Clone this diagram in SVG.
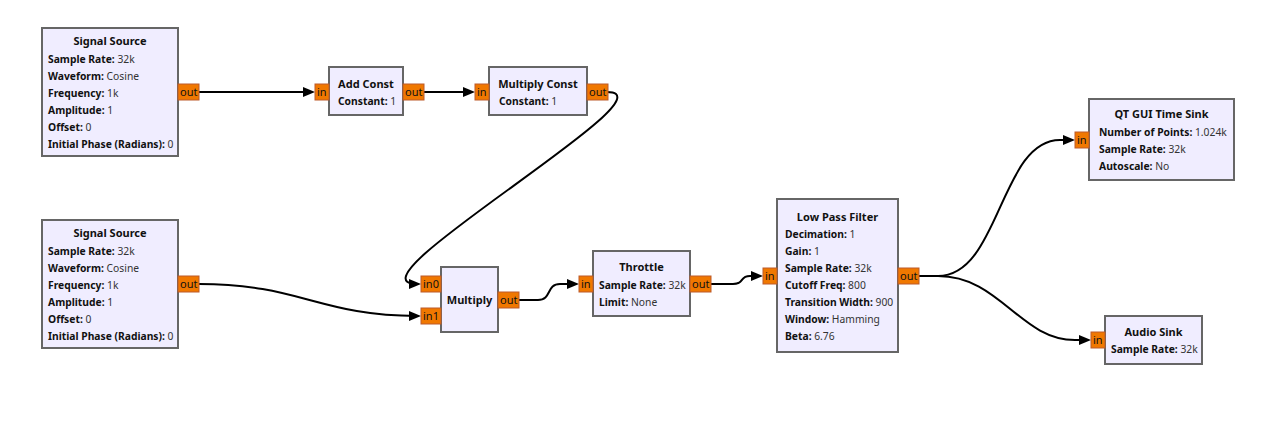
<svg xmlns="http://www.w3.org/2000/svg" width="1288" height="444" viewBox="0 0 1288 444">
<style>
.blk{fill:#F0EDFF;stroke:#666;stroke-width:2}
.port{fill:#F07800;stroke:#BC5A2A;stroke-width:1}
text{font-family:"Noto Sans","DejaVu Sans",sans-serif;font-size:10.3px;fill:#333}
.t{font-weight:bold;fill:#111;text-anchor:middle;font-size:11px}
.b{font-weight:bold;fill:#111}
.pt{fill:#111;font-size:11px}
.c{fill:none;stroke:#000;stroke-width:2}
</style>
<defs>
<marker id="ah" markerUnits="userSpaceOnUse" viewBox="0 0 12 10" refX="8" refY="5" markerWidth="12" markerHeight="10" orient="auto">
<path d="M0,0 L12,5 L0,10 z" fill="#000"/>
</marker>
</defs>
<rect width="1288" height="444" fill="#fff"/>

<g id="connectors">
<path class="c" marker-end="url(#ah)" d="M199,92 L311,92"/>
<path class="c" marker-end="url(#ah)" d="M424,92 L471,92"/>
<path class="c" marker-end="url(#ah)" d="M607,92 C680,92 340,284 417,284"/>
<path class="c" marker-end="url(#ah)" d="M199,284 C300,284 320,316 417,316"/>
<path class="c" marker-end="url(#ah)" d="M519,300 L538,300 C552,300 546,284 560,284 L575,284"/>
<path class="c" marker-end="url(#ah)" d="M711,284 L733,284 C745,284 739,276 750,276 L759,276"/>
<path class="c" marker-end="url(#ah)" d="M919,276 L938,276 C1000,276 1000,140 1060,140 L1071,140"/>
<path class="c" marker-end="url(#ah)" d="M919,276 L938,276 C1000,276 1020,340 1075,340 L1087,340"/>
</g>

<g id="signal_source_0">
<rect class="blk" x="42" y="28" width="136" height="128"/>
<text class="t" x="110" y="45">Signal Source</text>
<text x="48" y="63"><tspan class="b">Sample Rate:</tspan> 32k</text>
<text x="48" y="80"><tspan class="b">Waveform:</tspan> Cosine</text>
<text x="48" y="97"><tspan class="b">Frequency:</tspan> 1k</text>
<text x="48" y="114"><tspan class="b">Amplitude:</tspan> 1</text>
<text x="48" y="131"><tspan class="b">Offset:</tspan> 0</text>
<text x="48" y="148"><tspan class="b">Initial Phase (Radians):</tspan> 0</text>
<rect class="port" x="178" y="84" width="21" height="16"/>
<text class="pt" x="180" y="96">out</text>
</g>

<g id="add_const">
<rect class="blk" x="329" y="67" width="74" height="48"/>
<text class="t" x="366" y="88">Add Const</text>
<text x="338" y="105"><tspan class="b">Constant:</tspan> 1</text>
<rect class="port" x="315" y="84" width="14" height="16"/>
<text class="pt" x="317" y="96">in</text>
<rect class="port" x="403" y="84" width="21" height="16"/>
<text class="pt" x="405" y="96">out</text>
</g>

<g id="multiply_const">
<rect class="blk" x="489" y="67" width="98" height="48"/>
<text class="t" x="538" y="88">Multiply Const</text>
<text x="499" y="105"><tspan class="b">Constant:</tspan> 1</text>
<rect class="port" x="475" y="84" width="14" height="16"/>
<text class="pt" x="477" y="96">in</text>
<rect class="port" x="587" y="84" width="21" height="16"/>
<text class="pt" x="589" y="96">out</text>
</g>

<g id="signal_source_1">
<rect class="blk" x="42" y="220" width="136" height="128"/>
<text class="t" x="110" y="237">Signal Source</text>
<text x="48" y="255"><tspan class="b">Sample Rate:</tspan> 32k</text>
<text x="48" y="272"><tspan class="b">Waveform:</tspan> Cosine</text>
<text x="48" y="289"><tspan class="b">Frequency:</tspan> 1k</text>
<text x="48" y="306"><tspan class="b">Amplitude:</tspan> 1</text>
<text x="48" y="323"><tspan class="b">Offset:</tspan> 0</text>
<text x="48" y="340"><tspan class="b">Initial Phase (Radians):</tspan> 0</text>
<rect class="port" x="178" y="276" width="21" height="16"/>
<text class="pt" x="180" y="288">out</text>
</g>

<g id="multiply">
<rect class="blk" x="441" y="267" width="57" height="65"/>
<text class="t" x="469.5" y="304">Multiply</text>
<rect class="port" x="421" y="276" width="20" height="16"/>
<text class="pt" x="423" y="288">in0</text>
<rect class="port" x="421" y="308" width="20" height="16"/>
<text class="pt" x="423" y="320">in1</text>
<rect class="port" x="498" y="292" width="21" height="16"/>
<text class="pt" x="500" y="304">out</text>
</g>

<g id="throttle">
<rect class="blk" x="593" y="251" width="97" height="65"/>
<text class="t" x="641.5" y="271">Throttle</text>
<text x="599" y="289"><tspan class="b">Sample Rate:</tspan> 32k</text>
<text x="599" y="306"><tspan class="b">Limit:</tspan> None</text>
<rect class="port" x="579" y="276" width="14" height="16"/>
<text class="pt" x="581" y="288">in</text>
<rect class="port" x="690" y="276" width="21" height="16"/>
<text class="pt" x="692" y="288">out</text>
</g>

<g id="low_pass_filter">
<rect class="blk" x="777" y="199" width="121" height="153"/>
<text class="t" x="837.5" y="221">Low Pass Filter</text>
<text x="785" y="238"><tspan class="b">Decimation:</tspan> 1</text>
<text x="785" y="255"><tspan class="b">Gain:</tspan> 1</text>
<text x="785" y="272"><tspan class="b">Sample Rate:</tspan> 32k</text>
<text x="785" y="289"><tspan class="b">Cutoff Freq:</tspan> 800</text>
<text x="785" y="306"><tspan class="b">Transition Width:</tspan> 900</text>
<text x="785" y="323"><tspan class="b">Window:</tspan> Hamming</text>
<text x="785" y="340"><tspan class="b">Beta:</tspan> 6.76</text>
<rect class="port" x="763" y="268" width="14" height="16"/>
<text class="pt" x="765" y="280">in</text>
<rect class="port" x="898" y="268" width="21" height="16"/>
<text class="pt" x="900" y="280">out</text>
</g>

<g id="qt_gui_time_sink">
<rect class="blk" x="1089" y="99" width="145" height="81"/>
<text class="t" x="1161.5" y="118">QT GUI Time Sink</text>
<text x="1099" y="136"><tspan class="b">Number of Points:</tspan> 1.024k</text>
<text x="1099" y="153"><tspan class="b">Sample Rate:</tspan> 32k</text>
<text x="1099" y="170"><tspan class="b">Autoscale:</tspan> No</text>
<rect class="port" x="1075" y="132" width="14" height="16"/>
<text class="pt" x="1077" y="144">in</text>
</g>

<g id="audio_sink">
<rect class="blk" x="1105" y="316" width="97" height="48"/>
<text class="t" x="1153.5" y="336">Audio Sink</text>
<text x="1111" y="353"><tspan class="b">Sample Rate:</tspan> 32k</text>
<rect class="port" x="1091" y="332" width="14" height="16"/>
<text class="pt" x="1093" y="344">in</text>
</g>
</svg>
